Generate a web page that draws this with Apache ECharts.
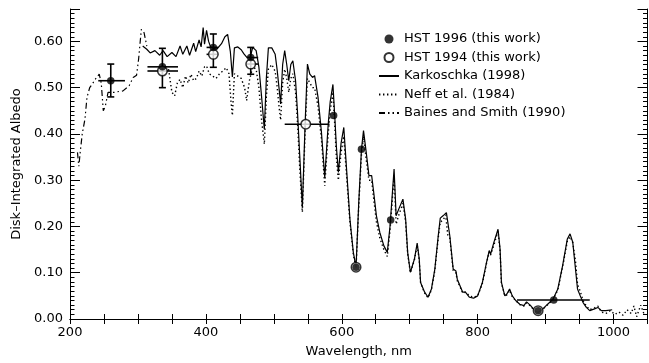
<!DOCTYPE html>
<html>
<head>
<meta charset="utf-8">
<script src="https://cdn.jsdelivr.net/npm/echarts@6/dist/echarts.min.js"></script>
<style>
  html, body { margin: 0; padding: 0; background: #fff; }
  #chart { width: 649px; height: 363px; }
</style>
</head>
<body>
<div id="chart"></div>
<script>
// Karkoschka (1998) full-disk albedo spectrum
const karkWl = [307, 313, 318, 325, 332, 337, 343, 350, 356, 362, 366, 372, 376, 382, 385, 390, 393, 396, 398, 401,
  404, 407, 411, 416, 423, 428, 432, 436, 439, 442, 447, 452, 456, 460, 465, 469, 474, 478, 482, 486,
  489, 492, 497, 502, 505, 508, 510, 513, 516, 519, 522, 525, 528, 532, 535, 538, 542, 546, 549.5, 553,
  557, 560, 565, 570, 575, 580, 583, 587, 590, 592, 595, 599, 603, 607, 612, 617, 621, 625, 629, 632,
  636, 640, 644, 647, 651, 656, 662, 667, 671, 677, 680, 684, 690, 694, 697, 701, 707, 711, 714, 716,
  722, 727, 732, 737, 742, 745, 749, 754, 759, 764, 768, 770, 774, 778, 782, 788, 794, 800, 807, 813,
  817, 819, 824, 830, 833, 835, 840, 843, 847, 851, 856, 862, 868, 872, 878, 884, 889, 896, 903, 911,
  918, 925, 932, 936, 940, 944, 947, 951, 955, 960, 965, 972, 977, 982, 989, 998];
const karkAlb = [0.590, 0.583, 0.575, 0.580, 0.570, 0.580, 0.567, 0.576, 0.567, 0.590, 0.572, 0.590, 0.570, 0.596, 0.578, 0.603, 0.588, 0.630, 0.594, 0.624,
  0.600, 0.588, 0.585, 0.583, 0.595, 0.610, 0.615, 0.578, 0.523, 0.586, 0.588, 0.582, 0.573, 0.566, 0.565, 0.587, 0.580, 0.545, 0.480, 0.410,
  0.520, 0.586, 0.586, 0.572, 0.537, 0.494, 0.465, 0.550, 0.580, 0.550, 0.515, 0.550, 0.558, 0.515, 0.443, 0.357, 0.241, 0.420, 0.551, 0.529,
  0.522, 0.526, 0.480, 0.405, 0.306, 0.420, 0.470, 0.507, 0.430, 0.374, 0.317, 0.380, 0.414, 0.325, 0.216, 0.144, 0.112, 0.252, 0.367, 0.407,
  0.360, 0.310, 0.310, 0.274, 0.223, 0.187, 0.158, 0.144, 0.200, 0.324, 0.223, 0.238, 0.259, 0.216, 0.144, 0.101, 0.130, 0.164, 0.130, 0.079,
  0.058, 0.047, 0.065, 0.108, 0.180, 0.218, 0.223, 0.230, 0.180, 0.108, 0.104, 0.086, 0.072, 0.058, 0.058, 0.047, 0.045, 0.050, 0.079, 0.122,
  0.148, 0.140, 0.166, 0.194, 0.151, 0.079, 0.050, 0.054, 0.065, 0.050, 0.040, 0.032, 0.029, 0.037, 0.029, 0.018, 0.014, 0.022, 0.032, 0.043,
  0.065, 0.115, 0.173, 0.184, 0.166, 0.108, 0.065, 0.050, 0.036, 0.025, 0.018, 0.022, 0.025, 0.018, 0.018, 0.020];

// Neff et al. (1984)
const neffWl = [345, 350, 354, 358, 362, 366, 370, 374, 378, 382, 386, 390, 394, 398, 401, 405, 410, 415, 420, 425,
  430, 434, 437, 439, 442, 447, 452, 457, 460, 464, 469, 474, 478, 482, 486, 489, 492, 497, 502, 505,
  508, 510, 513, 516, 519, 522, 525, 528, 532, 535, 538, 542, 546, 549.5, 553, 557, 560, 565, 570, 575,
  580, 583, 587, 590, 592, 595, 599, 603, 607, 612, 617, 621, 625, 629, 632, 636, 640, 644, 647, 651,
  656, 662, 667, 671, 677, 680, 684, 690, 694, 697, 701, 707, 711, 714, 716, 722, 727, 732, 737, 742,
  745, 749, 753, 756, 759, 764, 768, 770, 774, 778, 782, 788, 794, 800, 807, 813, 817, 819, 824, 830,
  833, 835, 840, 843, 847, 851, 856, 862, 868, 872, 878, 884, 889, 896, 903, 911, 918, 925, 932, 936,
  940, 944, 947, 951, 955, 960, 965, 972, 977, 982, 989, 995, 1002, 1008, 1014, 1020, 1026, 1030, 1034, 1040, 1045];
const neffAlb = [0.540, 0.490, 0.482, 0.510, 0.518, 0.500, 0.525, 0.510, 0.529, 0.515, 0.520, 0.536, 0.525, 0.545, 0.547, 0.530, 0.525, 0.520, 0.530, 0.536,
  0.543, 0.530, 0.470, 0.440, 0.530, 0.525, 0.520, 0.500, 0.472, 0.515, 0.545, 0.540, 0.500, 0.430, 0.378, 0.480, 0.540, 0.550, 0.535, 0.500,
  0.455, 0.430, 0.510, 0.540, 0.520, 0.490, 0.520, 0.530, 0.490, 0.420, 0.330, 0.231, 0.400, 0.520, 0.510, 0.500, 0.500, 0.460, 0.390, 0.288,
  0.400, 0.450, 0.490, 0.410, 0.350, 0.300, 0.360, 0.395, 0.310, 0.210, 0.140, 0.110, 0.245, 0.355, 0.395, 0.345, 0.300, 0.300, 0.260, 0.210,
  0.175, 0.150, 0.135, 0.190, 0.310, 0.205, 0.225, 0.250, 0.210, 0.140, 0.100, 0.128, 0.160, 0.128, 0.078, 0.056, 0.046, 0.063, 0.105, 0.175,
  0.210, 0.213, 0.225, 0.182, 0.175, 0.105, 0.100, 0.083, 0.070, 0.056, 0.058, 0.050, 0.047, 0.050, 0.077, 0.120, 0.145, 0.138, 0.160, 0.190,
  0.148, 0.078, 0.050, 0.052, 0.062, 0.048, 0.040, 0.031, 0.028, 0.035, 0.028, 0.017, 0.013, 0.021, 0.031, 0.042, 0.063, 0.112, 0.168, 0.178,
  0.165, 0.125, 0.075, 0.060, 0.040, 0.028, 0.020, 0.024, 0.028, 0.015, 0.012, 0.018, 0.010, 0.015, 0.008, 0.020, 0.012, 0.028, 0.005, 0.030, 0.010];

// Baines and Smith (1990), ultraviolet end
const bainesWl = [211, 213, 215, 218, 222, 225, 229, 233, 237, 243, 246, 249, 252, 256, 265, 278, 287, 293, 298, 301, 305, 309, 313];
const bainesAlb = [0.360, 0.330, 0.360, 0.400, 0.432, 0.479, 0.500, 0.508, 0.518, 0.529, 0.510, 0.450, 0.460, 0.490, 0.490, 0.493, 0.504, 0.522, 0.527, 0.562, 0.626, 0.619, 0.590];

// HST photometry: wavelength, albedo
const hst96Wl = [260, 336, 411, 466, 588, 621, 629, 672, 889, 912];
const hst96Alb = [0.515, 0.545, 0.587, 0.565, 0.440, 0.112, 0.367, 0.214, 0.018, 0.041];
const hst94Wl = [336, 411, 466, 547, 621, 889];
const hst94Alb = [0.536, 0.572, 0.551, 0.421, 0.112, 0.018];

// Error bars: [wavelength, albedo, wlLow, wlHigh, albLow, albHigh]
const hst96Err = [
  [260, 0.515, 241.6, 280.9, 0.480, 0.551],
  [336, 0.545, 314, 359, 0.500, 0.585],
  [411, 0.587, 401, 418, 0.544, 0.616],
  [466, 0.565, 460, 477, 0.529, 0.587],
  [912, 0.041, 858, 965, null, null]
];
const hst94Err = [
  [336, 0.536, 314, 359, null, null],
  [411, 0.572, 401, 418, null, null],
  [466, 0.551, 460, 477, null, null],
  [547, 0.421, 516, 582, null, null]
];

// Axis ticks
const xTicks = [200, 400, 600, 800, 1000];
const yTicks = [0.0, 0.1, 0.2, 0.3, 0.4, 0.5, 0.6];

const FONT = 'DejaVu Sans';
const zip = (xs, ys) => xs.map((x, i) => [x, ys[i]]);

function errorBars(params, api) {
  const x = api.value(0), y = api.value(1);
  const xl = api.value(2), xh = api.value(3), yl = api.value(4), yh = api.value(5);
  const style = { stroke: '#000', lineWidth: 1.6 };
  const kids = [];
  const ok = v => v != null && !isNaN(v);
  if (ok(xl) && ok(xh)) {
    const a = api.coord([xl, y]), b = api.coord([xh, y]);
    kids.push({ type: 'line', shape: { x1: a[0], y1: a[1], x2: b[0], y2: b[1] }, style });
  }
  if (ok(yl) && ok(yh)) {
    const a = api.coord([x, yl]), b = api.coord([x, yh]);
    kids.push({ type: 'line', shape: { x1: a[0], y1: a[1], x2: b[0], y2: b[1] }, style });
    kids.push({ type: 'line', shape: { x1: a[0] - 3.5, y1: a[1], x2: a[0] + 3.5, y2: a[1] }, style });
    kids.push({ type: 'line', shape: { x1: b[0] - 3.5, y1: b[1], x2: b[0] + 3.5, y2: b[1] }, style });
  }
  return { type: 'group', children: kids };
}

const axisLineStyle = { color: '#000', width: 1 };
const labelStyle = { color: '#000', fontFamily: FONT, fontSize: 13 };
const noSymbol = { color: 'rgba(0,0,0,0)', borderWidth: 0, opacity: 0 };

const chart = echarts.init(document.getElementById('chart'), null, { renderer: 'canvas' });
chart.setOption({
  animation: false,
  backgroundColor: '#fff',
  grid: { left: 70, right: 1.5, top: 9, bottom: 42.5, containLabel: false },
  legend: {
    orient: 'vertical',
    left: 373,
    top: 27,
    itemWidth: 20,
    itemHeight: 9,
    itemGap: 4.5,
    textStyle: { color: '#000', fontFamily: FONT, fontSize: 13, lineHeight: 14 },
    data: [
      { name: 'HST 1996 (this work)', icon: 'circle' },
      { name: 'HST 1994 (this work)', icon: 'circle' },
      { name: 'Karkoschka (1998)', itemStyle: noSymbol },
      { name: 'Neff et al. (1984)', itemStyle: noSymbol },
      { name: 'Baines and Smith (1990)', itemStyle: noSymbol }
    ]
  },
  xAxis: [
    {
      type: 'value', min: 200, max: 1050, interval: 200,
      name: 'Wavelength, nm', nameLocation: 'middle', nameGap: 26,
      nameTextStyle: labelStyle,
      axisLine: { lineStyle: axisLineStyle },
      axisTick: { inside: true, length: 5, lineStyle: axisLineStyle },
      minorTick: { show: true, splitNumber: 4, length: 5, lineStyle: axisLineStyle },
      axisLabel: { ...labelStyle, margin: 7, showMaxLabel: false,
        formatter: v => xTicks.includes(v) ? String(v) : '' },
      splitLine: { show: false }
    },
    {
      type: 'value', min: 200, max: 1050, interval: 200, position: 'top',
      axisLine: { lineStyle: axisLineStyle },
      axisTick: { inside: true, length: 5, lineStyle: axisLineStyle },
      minorTick: { show: true, splitNumber: 4, length: 5, lineStyle: axisLineStyle },
      axisLabel: { show: false },
      splitLine: { show: false }
    }
  ],
  yAxis: [
    {
      type: 'value', min: 0, max: 0.67, interval: 0.1,
      name: 'Disk\u2013Integrated Albedo', nameLocation: 'middle', nameGap: 46, nameRotate: 90,
      nameTextStyle: labelStyle,
      axisLine: { lineStyle: axisLineStyle },
      axisTick: { inside: true, length: 10, lineStyle: axisLineStyle },
      minorTick: { show: true, splitNumber: 10, length: 4.5, lineStyle: axisLineStyle },
      axisLabel: { ...labelStyle, margin: 7, showMaxLabel: false,
        formatter: v => yTicks.some(t => Math.abs(t - v) < 1e-6) ? v.toFixed(2) : '' },
      splitLine: { show: false }
    },
    {
      type: 'value', min: 0, max: 0.67, interval: 0.1, position: 'right',
      axisLine: { lineStyle: axisLineStyle },
      axisTick: { inside: true, length: 10, lineStyle: axisLineStyle },
      minorTick: { show: true, splitNumber: 10, length: 4.5, lineStyle: axisLineStyle },
      axisLabel: { show: false },
      splitLine: { show: false }
    }
  ],
  series: [
    {
      name: 'Baines and Smith (1990)', type: 'line', data: zip(bainesWl, bainesAlb),
      showSymbol: false, symbol: 'none',
      lineStyle: { color: '#000', width: 1.2, type: [6, 3, 1.5, 3, 1.5, 3] },
      itemStyle: { color: '#000' }, z: 2
    },
    {
      name: 'Neff et al. (1984)', type: 'line', data: zip(neffWl, neffAlb),
      showSymbol: false, symbol: 'none',
      lineStyle: { color: '#000', width: 1.4, type: [1.4, 2.6] },
      itemStyle: { color: '#000' }, z: 2
    },
    {
      name: 'Karkoschka (1998)', type: 'line', data: zip(karkWl, karkAlb),
      showSymbol: false, symbol: 'none',
      lineStyle: { color: '#000', width: 1.2, type: 'solid' },
      itemStyle: { color: '#000' }, z: 3
    },
    {
      name: 'HST 1996 error bars', type: 'custom', renderItem: errorBars,
      data: hst96Err, encode: { x: 0, y: 1 }, z: 4, silent: true
    },
    {
      name: 'HST 1994 error bars', type: 'custom', renderItem: errorBars,
      data: hst94Err, encode: { x: 0, y: 1 }, z: 4, silent: true
    },
    {
      name: 'HST 1994 (this work)', type: 'scatter', data: zip(hst94Wl, hst94Alb),
      symbol: 'circle', symbolSize: 9.5,
      itemStyle: { color: '#fff', borderColor: '#000', borderWidth: 1.5 }, z: 5
    },
    {
      name: 'HST 1996 (this work)', type: 'scatter', data: zip(hst96Wl, hst96Alb),
      symbol: 'circle', symbolSize: 7.5,
      itemStyle: { color: '#000', borderColor: '#000', borderWidth: 0 }, z: 6
    }
  ]
});
</script>
</body>
</html>
